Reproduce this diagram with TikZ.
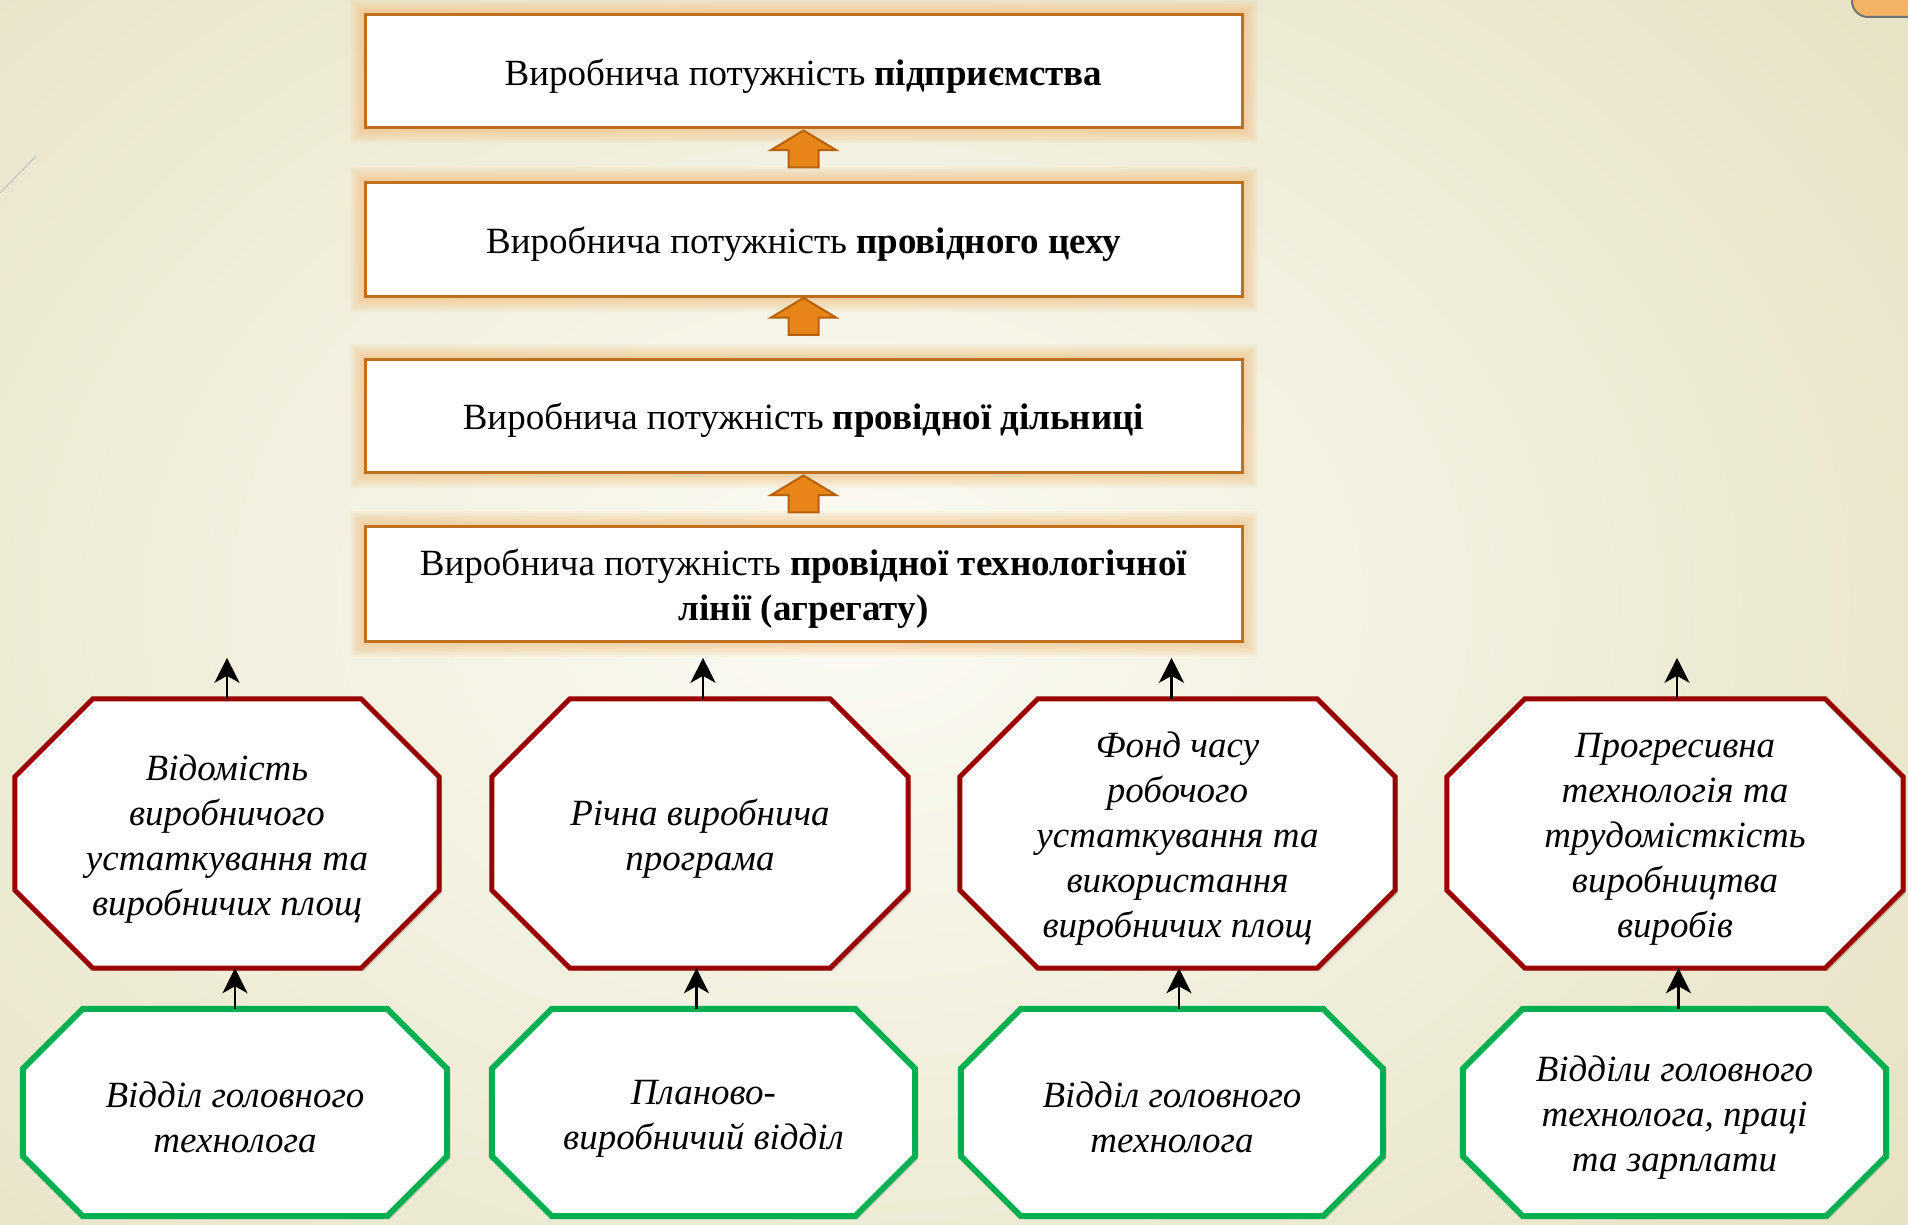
\documentclass[tikz,border=0pt]{standalone}
\usepackage{fontspec}
\setmainfont{Liberation Serif}
\usetikzlibrary{shapes.arrows,arrows.meta,backgrounds,shadows}

\definecolor{bgin}{RGB}{252,251,244}
\definecolor{bgout}{RGB}{230,226,195}
\definecolor{potborder}{RGB}{192,111,30}
\definecolor{glow}{RGB}{240,172,92}
\definecolor{arrfill}{RGB}{232,133,25}
\definecolor{arrdraw}{RGB}{184,97,10}
\definecolor{redline}{RGB}{153,0,0}
\definecolor{greenline}{RGB}{0,176,80}
\definecolor{tabfill}{RGB}{243,178,100}

\newcommand{\linestrut}{\rule{0pt}{36pt}}
\newcommand{\octa}[3]{%
	\filldraw[#3] ([xshift=#2]#1.north west) -- ([xshift=-#2]#1.north east) -- ([yshift=-#2]#1.north east) -- ([yshift=#2]#1.south east) -- ([xshift=-#2]#1.south east) -- ([xshift=#2]#1.south west) -- ([yshift=#2]#1.south west) -- ([yshift=-#2]#1.north west) -- cycle;}

\begin{document}
\begin{tikzpicture}[x=1pt,y=-1pt,
	txt/.style={inner sep=0pt,align=center},
	potbox/.style={txt,draw=potborder,line width=3pt,fill=white,minimum width=877pt,minimum height=113pt,font=\fontsize{37}{45}\selectfont},
	uparr/.style={single arrow,rotate=90,fill=arrfill,draw=arrdraw,line width=2pt,inner xsep=0pt,inner ysep=14pt,minimum height=37pt,single arrow head extend=17.5pt,single arrow tip angle=118},
	factor/.style={txt,minimum height=269pt,font=\itshape\fontsize{37}{45}\selectfont},
	dept/.style={txt,minimum height=207pt,font=\itshape\fontsize{37}{45}\selectfont},
	oshadow/.style={drop shadow={shadow xshift=3pt,shadow yshift=-3pt,opacity=0.22,fill=black!60}},
	arr/.style={line width=2.8pt,-{Stealth[length=25pt,width=25pt,inset=7pt]}}]
	\useasboundingbox (0,0) rectangle (1908,1225);

	\node[potbox] (pidpr) at (803.5,71.5) {\linestrut Виробнича потужність \textbf{підприємства}};
	\node[potbox] (tsekh) at (803.5,239.5) {\linestrut Виробнича потужність \textbf{провідного цеху}};
	\node[potbox] (dilnytsia) at (803.5,415.5) {\linestrut Виробнича потужність \textbf{провідної дільниці}};
	\node[potbox,minimum height=115pt] (liniia) at (803.5,583.5) {\linestrut Виробнича потужність \textbf{провідної технологічної}\\\textbf{лінії (агрегату)}};

	\node[uparr] (a1) at (803.5,153.5) {};
	\node[uparr] (a2) at (803.5,321) {};
	\node[uparr] (a3) at (803.5,498.5) {};

	\node[factor,minimum width=424pt] (vidomist) at (227,833.5) {\linestrut Відомість\\виробничого\\устаткування та\\виробничих площ};
	\node[factor,minimum width=416pt] (prohrama) at (700,833.5) {\linestrut Річна виробнича\\програма};
	\node[factor,minimum width=435pt] (fond) at (1177.5,833.5) {\linestrut Фонд часу\\робочого\\устаткування та\\використання\\виробничих площ};
	\node[factor,minimum width=456pt] (tekhn) at (1675,833.5) {\linestrut Прогресивна\\технологія та\\трудомісткість\\виробництва\\виробів};

	\node[dept,minimum width=424pt] (vtekh1) at (235,1112.5) {\linestrut Відділ головного\\технолога};
	\node[dept,minimum width=423pt] (plan) at (703.5,1112.5) {\linestrut Планово-\\виробничий відділ};
	\node[dept,minimum width=422pt] (vtekh2) at (1172,1112.5) {\linestrut Відділ головного\\технолога};
	\node[dept,minimum width=423pt] (vpratsi) at (1674.5,1112.5) {\linestrut Відділи головного\\технолога, праці\\та зарплати};

	\draw[arr] (vidomist.north) -- ++(0,-41);
	\draw[arr] ([xshift=3pt]prohrama.north) -- ++(0,-41);
	\draw[arr] ([xshift=-6pt]fond.north) -- ++(0,-41);
	\draw[arr] ([xshift=2pt]tekhn.north) -- ++(0,-41);
	\draw[arr] (vtekh1.north) -- (vtekh1.north |- vidomist.south);
	\draw[arr] ([xshift=-7pt]plan.north) -- ([xshift=-7pt]plan.north |- prohrama.south);
	\draw[arr] ([xshift=7pt]vtekh2.north) -- ([xshift=7pt]vtekh2.north |- fond.south);
	\draw[arr] ([xshift=4pt]vpratsi.north) -- ([xshift=4pt]vpratsi.north |- tekhn.south);

	\begin{scope}[on background layer]
		\clip (0,0) rectangle (1908,1225);
		\shade[inner color=bgin,outer color=bgout] (-500,-400) rectangle (2200,1600);
		\draw[black!25,line width=1pt] (0,193) -- (36,156);
		\filldraw[fill=tabfill,draw=black!55,line width=2pt,rounded corners=16pt] (1852,-40) rectangle (1980,17);
		\foreach \b in {pidpr,tsekh,dilnytsia,liniia}
			\foreach \k in {1,...,7}
				\fill[glow,opacity=0.08] ([shift={({-2*\k},{-2*\k})}]\b.north west) rectangle ([shift={({2*\k},{2*\k})}]\b.south east);
		\foreach \n in {vidomist,prohrama,fond,tekhn}
			\octa{\n}{78pt}{draw=redline,line width=5pt,fill=white,oshadow};
		\foreach \n in {vtekh1,plan,vtekh2,vpratsi}
			\octa{\n}{60pt}{draw=greenline,line width=6pt,fill=white,oshadow};
	\end{scope}
\end{tikzpicture}
\end{document}
